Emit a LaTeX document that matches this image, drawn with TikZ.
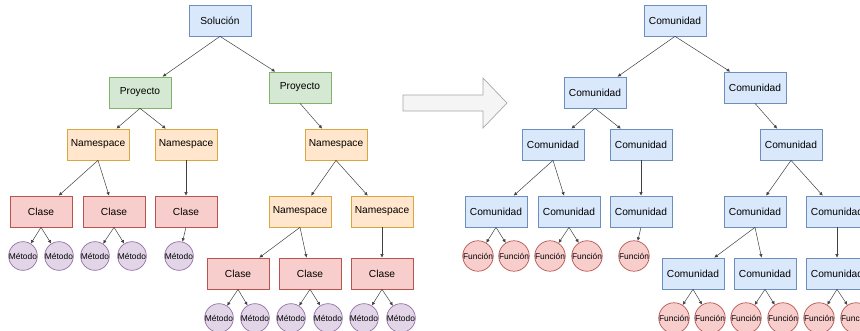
\documentclass[tikz,border=0pt]{standalone}
\usepackage{fontspec}
\setmainfont{Liberation Sans}
\usetikzlibrary{arrows.meta}

\definecolor{azulf}{HTML}{DAE8FC}
\definecolor{azulb}{HTML}{6C8EBF}
\definecolor{verdef}{HTML}{D5E8D4}
\definecolor{verdeb}{HTML}{82B366}
\definecolor{naranjaf}{HTML}{FFE6CC}
\definecolor{naranjab}{HTML}{D9A740}
\definecolor{rojof}{HTML}{F8CECC}
\definecolor{rojob}{HTML}{B85450}
\definecolor{moradof}{HTML}{E1D5E7}
\definecolor{moradob}{HTML}{9673A6}
\definecolor{flechaf}{HTML}{F5F5F5}
\definecolor{flechab}{HTML}{A8A8A8}

\tikzset{
    caja/.style={rectangle, draw, line width=0.7pt, minimum width=62pt, minimum height=31pt,
        inner sep=0pt, font=\fontsize{10.2}{12}\selectfont},
    hoja/.style={circle, draw, line width=0.7pt, minimum size=26pt, inner sep=0pt,
        font=\fontsize{8.4}{10}\selectfont},
    azul/.style={caja, fill=azulf, draw=azulb},
    verde/.style={caja, fill=verdef, draw=verdeb},
    naranja/.style={caja, fill=naranjaf, draw=naranjab},
    rojo/.style={caja, fill=rojof, draw=rojob},
    metodo/.style={hoja, fill=moradof, draw=moradob},
    funcion/.style={hoja, fill=rojof, draw=rojob},
    enlace/.style={draw=black!75, line width=0.5pt, -{Latex[length=3.5pt,width=3.5pt]}}
}

\begin{document}
\begin{tikzpicture}[x=1pt, y=-1pt]
    \clip (0,0) rectangle (860,330);

    % solucion actual
    \node[azul] (sol) at (220,20.5) {Solución};
    \node[verde] (proyA) at (140,92.5) {Proyecto};
    \node[verde] (proyB) at (300,87.5) {Proyecto};
    \node[naranja] (nsA) at (98,144.5) {Namespace};
    \node[naranja] (nsB) at (186,144.5) {Namespace};
    \node[naranja] (nsC) at (336,144.5) {Namespace};
    \node[rojo] (clA) at (41,211.5) {Clase};
    \node[rojo] (clB) at (114,211.5) {Clase};
    \node[rojo] (clC) at (186,211.5) {Clase};
    \node[naranja] (nsD) at (300,211.5) {Namespace};
    \node[naranja] (nsE) at (382,211.5) {Namespace};
    \node[metodo] (mA1) at (23,256) {Método};
    \node[metodo] (mA2) at (59,256) {Método};
    \node[metodo] (mB1) at (95,256) {Método};
    \node[metodo] (mB2) at (132,256) {Método};
    \node[metodo] (mC1) at (179,256) {Método};
    \node[rojo] (clD) at (238,273.5) {Clase};
    \node[rojo] (clE) at (310,273.5) {Clase};
    \node[rojo] (clF) at (382,273.5) {Clase};
    \node[metodo] (mD1) at (219,318) {Método};
    \node[metodo] (mD2) at (255,318) {Método};
    \node[metodo] (mE1) at (291,318) {Método};
    \node[metodo] (mE2) at (328,318) {Método};
    \node[metodo] (mF1) at (364,318) {Método};
    \node[metodo] (mF2) at (401,318) {Método};

    \foreach \a/\b in {sol/proyA, sol/proyB, proyA/nsA, proyA/nsB, proyB/nsC,
        nsA/clA, nsA/clB, nsB/clC, nsC/nsD, nsC/nsE, nsD/clD, nsD/clE, nsE/clF,
        clA/mA1, clA/mA2, clB/mB1, clB/mB2, clC/mC1,
        clD/mD1, clD/mD2, clE/mE1, clE/mE2, clF/mF1, clF/mF2}
        \draw[enlace] (\a.south) -- (\b);

    % flecha de transformacion
    \filldraw[fill=flechaf, draw=flechab, line width=0.7pt]
        (403,95) -- (483,95) -- (483,78) -- (507,103) -- (483,128) -- (483,111) -- (403,111) -- cycle;

    % comunidades
    \node[azul] (cRaiz) at (675,20.5) {Comunidad};
    \node[azul] (cA) at (595,92.5) {Comunidad};
    \node[azul] (cB) at (755,87.5) {Comunidad};
    \node[azul] (cAA) at (553,144.5) {Comunidad};
    \node[azul] (cAB) at (641,144.5) {Comunidad};
    \node[azul] (cBA) at (791,144.5) {Comunidad};
    \node[azul] (cAAA) at (496,211.5) {Comunidad};
    \node[azul] (cAAB) at (569,211.5) {Comunidad};
    \node[azul] (cABA) at (641,211.5) {Comunidad};
    \node[azul] (cBAA) at (755,211.5) {Comunidad};
    \node[azul] (cBAB) at (837,211.5) {Comunidad};
    \node[funcion] (fA1) at (478,256) {Función};
    \node[funcion] (fA2) at (514,256) {Función};
    \node[funcion] (fB1) at (550,256) {Función};
    \node[funcion] (fB2) at (587,256) {Función};
    \node[funcion] (fC1) at (634,256) {Función};
    \node[azul] (cBAAA) at (693,273.5) {Comunidad};
    \node[azul] (cBAAB) at (765,273.5) {Comunidad};
    \node[azul] (cBABA) at (837,273.5) {Comunidad};
    \node[funcion] (fD1) at (674,318) {Función};
    \node[funcion] (fD2) at (710,318) {Función};
    \node[funcion] (fE1) at (746,318) {Función};
    \node[funcion] (fE2) at (783,318) {Función};
    \node[funcion] (fF1) at (819,318) {Función};
    \node[funcion] (fF2) at (856,318) {Función};

    \foreach \a/\b in {cRaiz/cA, cRaiz/cB, cA/cAA, cA/cAB, cB/cBA,
        cAA/cAAA, cAA/cAAB, cAB/cABA, cBA/cBAA, cBA/cBAB,
        cBAA/cBAAA, cBAA/cBAAB, cBAB/cBABA,
        cAAA/fA1, cAAA/fA2, cAAB/fB1, cAAB/fB2, cABA/fC1,
        cBAAA/fD1, cBAAA/fD2, cBAAB/fE1, cBAAB/fE2, cBABA/fF1, cBABA/fF2}
        \draw[enlace] (\a.south) -- (\b);
\end{tikzpicture}
\end{document}
